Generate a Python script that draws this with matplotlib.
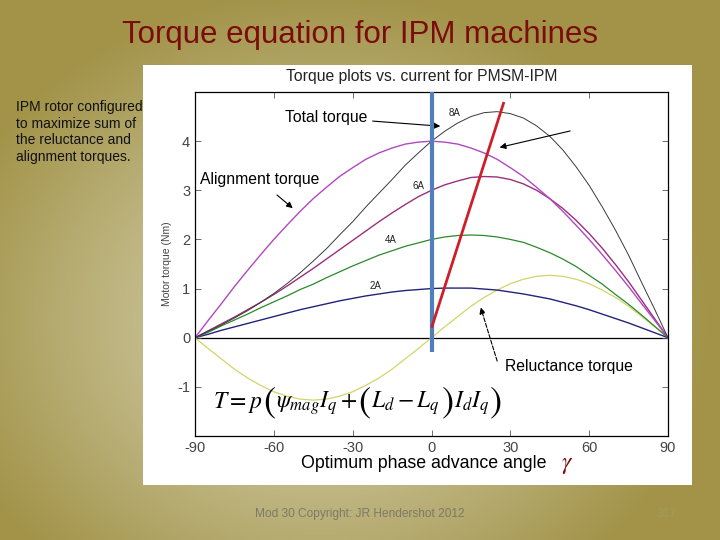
import numpy as np
import matplotlib
matplotlib.use("Agg")
import matplotlib.pyplot as plt
from matplotlib.patches import Rectangle

plt.rcParams['font.family'] = ['Liberation Sans', 'DejaVu Sans']
plt.rcParams['mathtext.fontset'] = 'stix'
plt.rcParams['axes.unicode_minus'] = False

# phase advance angle (deg)
gamma = list(range(-90, 95, 5))

# torque readings (Nm) off the plot, 5 deg steps
total_8A = [0, 0.13, 0.26, 0.40, 0.55, 0.72, 0.90, 1.10, 1.32, 1.56, 1.81, 2.09, 2.36,
            2.66, 2.94, 3.22, 3.51, 3.76, 4.00, 4.20, 4.37, 4.50, 4.58, 4.60, 4.56,
            4.47, 4.31, 4.10, 3.82, 3.48, 3.10, 2.66, 2.19, 1.68, 1.12, 0.57, 0]
align_8A = [0, 0.35, 0.69, 1.04, 1.37, 1.69, 2.00, 2.29, 2.57, 2.83, 3.06, 3.28, 3.46,
            3.63, 3.76, 3.86, 3.94, 3.98, 4.00, 3.98, 3.94, 3.86, 3.76, 3.63, 3.46,
            3.28, 3.06, 2.83, 2.57, 2.29, 2.00, 1.69, 1.37, 1.04, 0.69, 0.35, 0]
total_6A = [0, 0.14, 0.28, 0.42, 0.57, 0.72, 0.88, 1.05, 1.23, 1.41, 1.60, 1.79, 1.98,
            2.17, 2.36, 2.54, 2.71, 2.87, 3.00, 3.11, 3.19, 3.26, 3.28, 3.27, 3.22,
            3.13, 3.00, 2.83, 2.63, 2.39, 2.12, 1.82, 1.49, 1.14, 0.76, 0.38, 0]
total_4A = [0, 0.11, 0.24, 0.36, 0.48, 0.61, 0.73, 0.85, 0.98, 1.09, 1.22, 1.34, 1.46,
            1.57, 1.68, 1.77, 1.86, 1.93, 2.00, 2.05, 2.08, 2.09, 2.08, 2.05, 2.00,
            1.94, 1.84, 1.73, 1.60, 1.45, 1.27, 1.09, 0.88, 0.68, 0.46, 0.23, 0]
total_2A = [0, 0.07, 0.15, 0.22, 0.29, 0.36, 0.43, 0.50, 0.57, 0.63, 0.69, 0.75, 0.80,
            0.85, 0.89, 0.93, 0.96, 0.98, 1.00, 1.01, 1.01, 1.01, 0.99, 0.97, 0.93,
            0.89, 0.84, 0.79, 0.72, 0.65, 0.57, 0.48, 0.39, 0.30, 0.20, 0.10, 0]
reluct_8A = [0, -0.22, -0.43, -0.64, -0.82, -0.97, -1.10, -1.19, -1.25, -1.27, -1.25,
             -1.19, -1.10, -0.97, -0.82, -0.64, -0.43, -0.22, 0, 0.22, 0.43, 0.64, 0.82,
             0.97, 1.10, 1.19, 1.25, 1.27, 1.25, 1.19, 1.10, 0.97, 0.82, 0.64, 0.43, 0.22, 0]

# max torque per amp trajectory and the gamma=0 line
mtpa_x = [0.2, 27.4]
mtpa_y = [0.23, 4.77]
zero_x = [0, 0]
zero_y = [-0.30, 5.0]

W, H = 720, 540
fig = plt.figure(figsize=(7.2, 5.4), dpi=100)

# slide background, radial-ish gradient
bg = fig.add_axes([0, 0, 1, 1])
yy, xx = np.mgrid[0:H, 0:W]
d = np.sqrt(((xx - 320) / 390.0) ** 2 + ((yy - 320) / 330.0) ** 2)
d = np.clip(d, 0, 1) ** 1.2
light = np.array([214, 210, 178]) / 255.0
dark = np.array([162, 147, 72]) / 255.0
img = light[None, None, :] * (1 - d[..., None]) + dark[None, None, :] * d[..., None]
bg.imshow(img, extent=[0, W, H, 0], aspect='auto')
bg.set_xlim(0, W)
bg.set_ylim(H, 0)
bg.axis('off')

# white picture panel
bg.add_patch(Rectangle((143, 65), 549, 420, facecolor='white', edgecolor='none'))

def fx(px):
    return px / W

def fy(py):
    return 1 - py / H

fig.text(fx(360), fy(35), "Torque equation for IPM machines", color='#7a0c0c',
         fontsize=22.5, ha='center', va='center')
fig.text(fx(16), fy(100), "IPM rotor configured\nto maximize sum of\nthe reluctance and\nalignment torques.",
         fontsize=10, ha='left', va='top', linespacing=1.25, color='#111111')
fig.text(fx(422), fy(77), "Torque plots vs. current for PMSM-IPM", fontsize=11.3,
         ha='center', va='center', color='#222222')
fig.text(fx(255), fy(514), "Mod 30 Copyright: JR Hendershot 2012", fontsize=8.6,
         ha='left', va='center', color='#7d7a66')
fig.text(fx(667), fy(514), "317", fontsize=8.6, ha='center', va='center', color='#a29a5c')

ax = fig.add_axes([195 / W, 1 - 436 / H, (668 - 195) / W, (436 - 92) / H])
ax.set_facecolor('white')

ax.axhline(0, color='black', lw=0.9, zorder=1)
ax.plot(gamma, reluct_8A, color='#d4d46a', lw=0.9)
ax.plot(gamma, total_2A, color='#23237a', lw=1.0)
ax.plot(gamma, total_4A, color='#2a8a2a', lw=0.9)
ax.plot(gamma, total_6A, color='#9a2f7c', lw=1.0)
ax.plot(gamma, align_8A, color='#b048c0', lw=1.0)
ax.plot(gamma, total_8A, color='#3a3a3a', lw=0.7)
ax.plot(zero_x, zero_y, color='#4f7fbc', lw=3.0, solid_capstyle='butt', zorder=5)
ax.plot(mtpa_x, mtpa_y, color='#cc1f2a', lw=2.0, zorder=6)

ax.set_xlim(-90, 90)
ax.set_ylim(-2, 5)
ax.set_xticks([-90, -60, -30, 0, 30, 60, 90])
ax.set_yticks([-1, 0, 1, 2, 3, 4])
ax.tick_params(direction='in', length=4, width=0.6, top=True, right=True,
               labelsize=10.5, labelcolor='#444444', color='#555555')
for s in ax.spines.values():
    s.set_linewidth(0.9)
ax.set_ylabel("Motor torque (Nm)", fontsize=7.5, color='#444444', labelpad=4)

for lab, x, y in [("8A", 8.6, 4.58), ("6A", -4.9, 3.09), ("4A", -15.4, 1.99), ("2A", -21.5, 1.06)]:
    ax.text(x, y, lab, fontsize=7, ha='center', va='center', color='#222222')

arr = dict(arrowstyle='-|>', color='black', lw=0.8, mutation_scale=9)
ax.annotate("Total torque", xy=(4.4, 4.30), xytext=(-24.5, 4.48), fontsize=11.3,
            ha='right', va='center', arrowprops=arr)
ax.annotate("", xy=(24.9, 3.86), xytext=(53.8, 4.22), arrowprops=arr)
ax.text(-88.2, 3.21, "Alignment torque", fontsize=11.3, ha='left', va='center')
ax.annotate("", xy=(-52.0, 2.60), xytext=(-59.6, 2.94), arrowprops=arr)
ax.text(28.0, -0.59, "Reluctance torque", fontsize=11.3, ha='left', va='center')
ax.annotate("", xy=(18.4, 0.67), xytext=(25.3, -0.53),
            arrowprops=dict(arrowstyle='-|>', color='black', lw=0.8, ls='--', mutation_scale=9))

# torque equation, laid out piece by piece so the brackets can be tall
renderer = fig.canvas.get_renderer()
pieces = [(r'$T = p$', 17, 0), (r'$($', 26, -4), (r'$\psi_{mag}I_q+$', 17, 0),
          (r'$($', 26, -4), (r'$L_d - L_q$', 17, 0), (r'$)$', 26, -4),
          (r'$I_dI_q$', 17, 0), (r'$)$', 26, -4)]
xpos = 213.0
base = H - 408.0
for s, size, dy in pieces:
    t = fig.text(xpos / W, (base + dy) / H, s, fontsize=size, ha='left', va='baseline')
    bb = t.get_window_extent(renderer)
    xpos = bb.x1 + 0.5

fig.text(fx(424), fy(464), "Optimum phase advance angle", fontsize=12.8, ha='center',
         va='center', color='black')
fig.text(fx(567), fy(465), r'$\gamma$', fontsize=17, ha='center', va='center', color='#7a0c0c')

fig.savefig("out.png", dpi=100)
